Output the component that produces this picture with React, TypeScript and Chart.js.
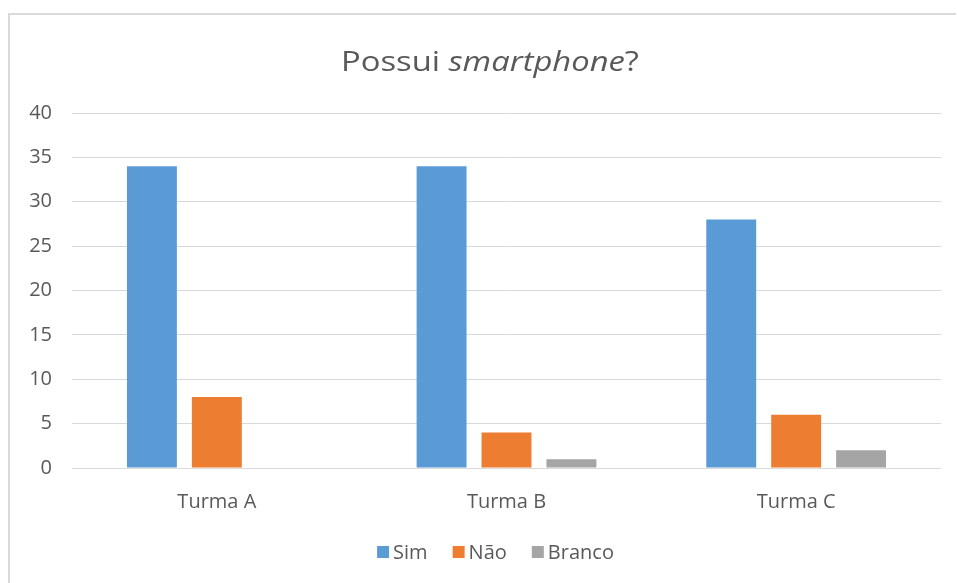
import React, { useEffect, useRef } from "react";
import { Chart, registerables } from "chart.js";

Chart.register(...registerables);

const categories = ["Turma A", "Turma B", "Turma C"];
const simValues = [34, 34, 28];
const naoValues = [8, 4, 6];
const brancoValues = [0, 1, 2];
const seriesLabels = ["Sim", "Não", "Branco"];
const seriesColors = ["#5B9BD5", "#ED7D31", "#A5A5A5"];
const yTicks = [0, 5, 10, 15, 20, 25, 30, 35, 40];
const titleParts = [
  { text: "Possui ", italic: false },
  { text: "smartphone", italic: true },
  { text: "?", italic: false },
];

const FONT = "'Open Sans', 'DejaVu Sans', sans-serif";
const TEXT_COLOR = "#595959";

const titlePlugin = {
  id: "mixedTitle",
  afterDraw(chart: any) {
    const ctx = chart.ctx;
    ctx.save();
    ctx.fillStyle = TEXT_COLOR;
    ctx.textBaseline = "alphabetic";
    ctx.textAlign = "left";
    const size = 28;
    const stretch = 1.17;
    let total = 0;
    const widths = titleParts.map((p) => {
      ctx.font = `${p.italic ? "italic " : ""}${size}px ${FONT}`;
      const w = ctx.measureText(p.text).width;
      total += w;
      return w;
    });
    const cx = 480;
    const y = 56;
    ctx.translate(cx, y);
    ctx.scale(stretch, 1);
    let x = -total / 2;
    titleParts.forEach((p, i) => {
      ctx.font = `${p.italic ? "italic " : ""}${size}px ${FONT}`;
      ctx.fillText(p.text, x, 0);
      x += widths[i];
    });
    ctx.restore();
  },
};

const legendPlugin = {
  id: "customLegend",
  afterDraw(chart: any) {
    const ctx = chart.ctx;
    ctx.save();
    const size = 20;
    ctx.font = `${size}px ${FONT}`;
    ctx.textBaseline = "middle";
    ctx.textAlign = "left";
    const box = 12;
    const gap = 4;
    const spacing = 25;
    const items = chart.data.datasets.map((d: any) => ({
      label: d.label,
      color: d.backgroundColor,
      w: ctx.measureText(d.label).width,
    }));
    let total = 0;
    items.forEach((it: any, i: number) => {
      total += box + gap + it.w + (i < items.length - 1 ? spacing : 0);
    });
    let x = 485.5 - total / 2;
    const y = 537;
    items.forEach((it: any) => {
      ctx.fillStyle = it.color;
      ctx.fillRect(x, y - box / 2, box, box);
      x += box + gap;
      ctx.fillStyle = TEXT_COLOR;
      ctx.fillText(it.label, x, y + 1);
      x += it.w + spacing;
    });
    ctx.restore();
  },
};

export default function App() {
  const ref = useRef<HTMLCanvasElement | null>(null);

  useEffect(() => {
    if (!ref.current) return;
    const values = [simValues, naoValues, brancoValues];
    const chart = new Chart(ref.current, {
      type: "bar",
      data: {
        labels: categories,
        datasets: seriesLabels.map((label, i) => ({
          label,
          data: values[i],
          backgroundColor: seriesColors[i],
          borderWidth: 0,
          categoryPercentage: 0.6724,
          barPercentage: 0.769,
        })),
      },
      options: {
        responsive: false,
        animation: false,
        devicePixelRatio: 1,
        layout: { padding: { top: 98, right: 15, bottom: 75, left: 0 } },
        plugins: {
          legend: { display: false },
          title: { display: false },
          tooltip: { enabled: false },
        },
        scales: {
          x: {
            grid: { display: false, drawTicks: false },
            border: { display: false },
            ticks: {
              color: TEXT_COLOR,
              font: { family: FONT, size: 20 },
              padding: 22,
            },
            afterFit: (scale: any) => {
              scale.height = 40;
            },
          },
          y: {
            min: 0,
            max: 40,
            afterBuildTicks: (scale: any) => {
              scale.ticks = yTicks.map((v) => ({ value: v }));
            },
            grid: { color: "#D9D9D9", lineWidth: 1, drawTicks: false },
            border: { display: false },
            ticks: {
              color: TEXT_COLOR,
              font: { family: FONT, size: 20 },
              padding: 20,
            },
            afterFit: (scale: any) => {
              scale.width = 62;
            },
          },
        },
      },
      plugins: [titlePlugin, legendPlugin],
    });
    return () => chart.destroy();
  }, []);

  return (
    <div
      style={{
        position: "absolute",
        left: 8,
        top: 13,
        width: 948,
        height: 570,
        overflow: "hidden",
        borderTop: "2px solid #D9D9D9",
        borderLeft: "2px solid #D9D9D9",
        boxSizing: "border-box",
        background: "#fff",
      }}
    >
      <canvas ref={ref} width={946} height={568} style={{ display: "block" }} />
    </div>
  );
}
